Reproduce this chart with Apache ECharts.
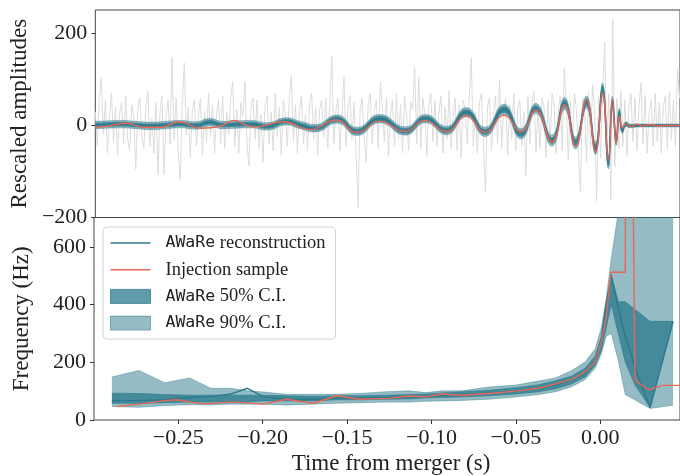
<!DOCTYPE html>
<html>
<head>
<meta charset="utf-8">
<script src="https://cdn.jsdelivr.net/npm/echarts@6/dist/echarts.min.js"></script>
<style>
  html, body { margin: 0; padding: 0; background: #fff; }
  #main { width: 680px; height: 476px; }
</style>
</head>
<body>
<div id="main"></div>
<script>
// 坐标轴刻度
var timeTicks = [-0.25, -0.20, -0.15, -0.10, -0.05, 0.00];
var ampTicks = [-200, 0, 200];
var freqTicks = [0, 200, 400, 600];

// 上图: 白化数据(灰色噪声), 采样起点和步长
var noiseStart = -0.2999, noiseStep = 0.0012;
var noiseAmp = [
  30, -45, 60, 104, -20, 55, -60, 15, 70, -35,
  40, -65, 25, 50, -40, 65, -30, -55, 45, 20,
  -95, 35, 60, -25, -50, 40, 75, -45, 15, -60,
  50, -107, 30, 65, -107, 20, 55, -40, 149, -30,
  60, -55, -117, 45, 136, -20, 40, -70, 35, 55,
  -45, 20, 60, -65, 30, -35, 70, -25, 45, -60,
  25, 55, -40, 65, -50, 30, -20, 60, 96, -45,
  35, -60, 50, 20, 95, -35, -88, 40, 60, -30,
  55, -50, 25, -80, 45, 65, -40, 30, -55, 70,
  -25, 40, -65, 55, 20, -45, 60, 108, -35, 45,
  -60, 30, 65, -40, 25, -55, 50, 70, -30, 40,
  -65, 35, 55, -25, 60, -50, 45, 150, -40, 30,
  60, -55, 25, 106, -45, 40, 65, -30, 50, -60,
  -178, 35, 60, -25, -80, 45, 70, -40, 30, 55,
  -50, 95, 40, -35, 60, -67, 25, 55, -45, 70,
  -30, 45, -60, 65, 20, -55, 50, 35, 126, -40,
  106, -50, 60, 25, -65, 45, 70, -35, 55, -45,
  30, 65, -60, 40, -30, 75, -50, 20, 60, -55,
  45, -70, 55, 35, -40, 65, 147, -45, 30, -60,
  50, 70, -35, -146, 40, 60, -55, 25, 65, -40,
  100, -50, 35, 60, -65, 45, -30, 70, -55, 40,
  55, -45, 30, -110, 65, -40, 50, 75, -60, 35,
  -50, 60, 40, -70, 55, -35, 70, 45, -60, 30,
  65, -55, 126, 40, -75, 55, -45, 70, 35, -65,
  -146, 60, 45, -80, 75, -50, 90, 40, -164, 65,
  -70, 85, 180, -60, 70, -160, 230, -90, 60, -50,
  75, -45, 55, -65, 40, 70, -35, 60, -55, 45,
  93, -40, 65, -60, 30, 55, -45, 70, -35, 50,
  -60, 40, 65, -50, 75, -30, 55, -45, 126, 60
];

// 上图: 重建波形及置信区间半宽
var recTime = [-0.2999, -0.2934, -0.2845, -0.2757, -0.2668, -0.2580, -0.2491, -0.2403, -0.2320, -0.2243,
  -0.2167, -0.2078, -0.1978, -0.1865, -0.1783, -0.1694, -0.1564, -0.1446, -0.1311, -0.1157,
  -0.1039, -0.0915, -0.0797, -0.0685, -0.0573, -0.0472, -0.0384, -0.0289, -0.0213, -0.0148,
  -0.0083, -0.0030, 0.0012, 0.0047, 0.0071, 0.0094, 0.0112, 0.0130, 0.0153, 0.0177,
  0.0224, 0.0472];
var recAmp = [1, 2, 3, 1, -1, 1, 3, 0, 7, 1,
  2, 3, -2, 9, 1, -6, 14, -13, 15, -12,
  15, -11, 29, -14, 35, -18, 37, -33, 48, -38,
  51, -50, 78, -80, 50, -32, 28, -10, 3, -1,
  0, 0];
var recHalf50 = [4, 4, 4, 4, 4, 4, 4, 4, 4, 4,
  4, 4, 4, 4, 4, 4, 5, 5, 5, 5,
  5, 5, 5, 5, 6, 6, 6, 6, 7, 7,
  7, 7, 8, 8, 7, 6, 5, 4, 3, 2,
  2, 2];
var recHalf90 = [8, 8, 8, 8, 8, 8, 8, 8, 8, 8,
  8, 8, 8, 8, 8, 8, 9, 9, 9, 9,
  9, 9, 10, 10, 11, 11, 11, 12, 13, 13,
  13, 13, 14, 14, 13, 11, 9, 7, 5, 4,
  3, 3];

// 上图: 注入波形
var injTime = [-0.2999, -0.2934, -0.2810, -0.2715, -0.2609, -0.2503, -0.2373, -0.2314, -0.2249, -0.2173,
  -0.2113, -0.2054, -0.1883, -0.1724, -0.1570, -0.1446, -0.1311, -0.1157, -0.1045, -0.0915,
  -0.0797, -0.0685, -0.0573, -0.0472, -0.0384, -0.0289, -0.0213, -0.0148, -0.0083, -0.0030,
  0.0012, 0.0047, 0.0071, 0.0094, 0.0112, 0.0130, 0.0153, 0.0183, 0.0213, 0.0254,
  0.0295, 0.0342, 0.0401, 0.0472];
var injAmp = [-4, -2, 5, -4, -4, 8, -6, -5, 0, 11,
  2, -3, 8, -9, 12, -15, 9, -13, 11, -13,
  21, -15, 22, -14, 33, -36, 45, -45, 56, -58,
  72, -75, 56, -38, 20, -5, 4, -3, 3, -1,
  2, -1, 0, 0];

// 下图: 频率重建
var freqTime = [-0.2893, -0.2733, -0.2580, -0.2432, -0.2308, -0.2190, -0.2090, -0.1995, -0.1860, -0.1700,
  -0.1564, -0.1423, -0.1269, -0.1133, -0.1033, -0.0939, -0.0821, -0.0661, -0.0502, -0.0366,
  -0.0266, -0.0171, -0.0089, -0.0030, 0.0006, 0.0035, 0.0065, 0.0106, 0.0148, 0.0207,
  0.0295, 0.0431];
var freqRec = [67, 67, 70, 78, 81, 90, 110, 80, 72, 72,
  76, 76, 78, 80, 82, 86, 88, 93, 100, 110,
  122, 138, 165, 205, 270, 400, 495, 390, 290, 180,
  43, 342];
var freqLo50 = [58, 58, 60, 62, 62, 63, 63, 66, 66, 66,
  70, 70, 72, 73, 76, 78, 80, 84, 90, 98,
  108, 125, 150, 190, 240, 320, 400, 300, 200, 120,
  43, 342];
var freqHi50 = [93, 92, 88, 86, 86, 86, 86, 86, 84, 82,
  84, 84, 86, 88, 90, 94, 98, 103, 112, 122,
  136, 152, 180, 222, 290, 410, 505, 410, 410, 382,
  342, 342];
var freqLo90 = [47, 44, 50, 53, 53, 55, 55, 55, 52, 55,
  58, 60, 62, 62, 65, 66, 68, 72, 80, 88,
  98, 115, 140, 180, 230, 290, 300, 207, 88, 69,
  40, 51];
var freqHi90 = [149, 172, 129, 146, 110, 110, 101, 97, 89, 89,
  89, 92, 98, 101, 95, 101, 101, 114, 121, 135,
  146, 171, 202, 247, 320, 420, 560, 720, 1500, 1500,
  1500, 1500];

// 下图: 注入频率
var injFreqTime = [-0.2863, -0.2733, -0.2580, -0.2509, -0.2349, -0.2172, -0.1995, -0.1860, -0.1700, -0.1564,
  -0.1423, -0.1251, -0.1133, -0.1033, -0.0939, -0.0821, -0.0661, -0.0502, -0.0366, -0.0266,
  -0.0171, -0.0089, -0.0030, 0.0006, 0.0035, 0.0063, 0.0148, 0.0151, 0.0175, 0.0205,
  0.0283, 0.0372, 0.0472];
var injFreq = [47, 55, 67, 70, 55, 63, 55, 72, 58, 84,
  72, 75, 83, 80, 90, 86, 92, 100, 110, 125,
  140, 168, 202, 270, 360, 512, 512, 2000, 2000, 139,
  105, 120, 120];

var TEAL = '#2b7a8c', RED = '#ea6656';
var C50 = 'rgba(43,122,140,0.75)', C90 = 'rgba(43,122,140,0.5)';
var SERIF = '"Liberation Serif", "DejaVu Serif", serif';
var MONO = '"DejaVu Sans Mono", "Liberation Mono", monospace';
var NAME_REC = 'AWaRe reconstruction', NAME_INJ = 'Injection sample';
var NAME_50 = 'AWaRe 50% C.I.', NAME_90 = 'AWaRe 90% C.I.';

// 简单的 extend, 页面没有 jQuery
var extend = function(a) {
  for (var k = 1; k < arguments.length; k++) {
    for (var key in arguments[k]) a[key] = arguments[k][key];
  }
  return a;
};

var zip = function(xs, ys) {
  var out = [];
  for (var i = 0; i < xs.length; i++) out.push([xs[i], ys[i]]);
  return out;
};

var minusFmt = function(digits) {
  return function(v) {
    var s = Math.abs(v).toFixed(digits);
    return v < -1e-9 ? '\u2212' + s : s;
  };
};

// 置信带: 下沿 + 堆叠差值
// 两个轴都是 value 时 echarts 会堆叠第一维, 所以数据写成 [y, x] 再用 encode 对应
var band = function(name, idx, t, lo, hi, color, smooth, z) {
  var diff = [];
  for (var i = 0; i < lo.length; i++) diff.push(hi[i] - lo[i]);
  var common = {
    type: 'line', xAxisIndex: idx, yAxisIndex: idx, stack: name + idx,
    stackStrategy: 'all', symbol: 'none', smooth: smooth, z: z, silent: true,
    encode: { x: 1, y: 0 }
  };
  return [
    extend({}, common, {
      name: name + '_lo' + idx, data: zip(lo, t),
      lineStyle: { width: 0.8, color: color }
    }),
    extend({}, common, {
      name: name, data: zip(diff, t), color: color,
      lineStyle: { width: 0.8, color: color },
      areaStyle: { color: color, opacity: 1 }
    })
  ];
};

var noiseData = [];
for (var i = 0; i < noiseAmp.length; i++) {
  noiseData.push([noiseStart + i * noiseStep, noiseAmp[i]]);
}

var recLo50 = [], recHi50 = [], recLo90 = [], recHi90 = [];
for (var j = 0; j < recAmp.length; j++) {
  recLo50.push(recAmp[j] - recHalf50[j]);
  recHi50.push(recAmp[j] + recHalf50[j]);
  recLo90.push(recAmp[j] - recHalf90[j]);
  recHi90.push(recAmp[j] + recHalf90[j]);
}

var labelStyle = { fontFamily: SERIF, fontSize: 22, color: '#222' };
var nameStyle = { fontFamily: SERIF, fontSize: 23, color: '#222' };
var tickStyle = { lineStyle: { color: '#333', width: 1 }, length: 4 };

var series = [{
  name: 'noise', type: 'line', xAxisIndex: 0, yAxisIndex: 0,
  data: noiseData, symbol: 'none', silent: true, z: 1,
  lineStyle: { width: 1, color: '#dcdcdc' }
}];
series = series.concat(band(NAME_90, 0, recTime, recLo90, recHi90, C90, true, 2));
series = series.concat(band(NAME_50, 0, recTime, recLo50, recHi50, C50, true, 3));
series.push({
  name: NAME_REC, type: 'line', xAxisIndex: 0, yAxisIndex: 0, z: 4,
  data: zip(recTime, recAmp), symbol: 'none', smooth: true,
  lineStyle: { width: 1.6, color: TEAL }, color: TEAL
});
series.push({
  name: NAME_INJ, type: 'line', xAxisIndex: 0, yAxisIndex: 0, z: 5,
  data: zip(injTime, injAmp), symbol: 'none', smooth: true,
  lineStyle: { width: 1.4, color: RED }, color: RED
});
series = series.concat(band(NAME_90, 1, freqTime, freqLo90, freqHi90, C90, false, 2));
series = series.concat(band(NAME_50, 1, freqTime, freqLo50, freqHi50, C50, false, 3));
series.push({
  name: NAME_REC, type: 'line', xAxisIndex: 1, yAxisIndex: 1, z: 4,
  data: zip(freqTime, freqRec), symbol: 'none',
  lineStyle: { width: 1.4, color: TEAL }, color: TEAL
});
series.push({
  name: NAME_INJ, type: 'line', xAxisIndex: 1, yAxisIndex: 1, z: 5,
  data: zip(injFreqTime, injFreq), symbol: 'none',
  lineStyle: { width: 1.4, color: RED }, color: RED
});

var LINE_ICON = 'path://M0,0h40v1.5h-40z';

var option = {
  animation: false,
  backgroundColor: '#fff',
  grid: [
    { left: 94, top: 10, width: 588, height: 207.5, show: true, borderColor: '#444', borderWidth: 1 },
    { left: 94, top: 217.5, width: 588, height: 207, show: true, borderColor: '#444', borderWidth: 1 }
  ],
  xAxis: [{
    type: 'value', gridIndex: 0, min: -0.2999, max: 0.0472,
    axisLine: { show: false, onZero: false }, axisTick: { show: false },
    axisLabel: { show: false }, splitLine: { show: false }
  }, {
    type: 'value', gridIndex: 1, min: -0.2999, max: 0.0472,
    name: 'Time from merger (s)', nameLocation: 'middle', nameGap: 32,
    nameTextStyle: extend({ padding: [0, 0, 0, 8] }, nameStyle),
    axisLine: { show: false, onZero: false },
    axisTick: extend({ customValues: timeTicks }, tickStyle),
    axisLabel: extend({ customValues: timeTicks, margin: 7, formatter: minusFmt(2) }, labelStyle),
    splitLine: { show: false }
  }],
  yAxis: [{
    type: 'value', gridIndex: 0, min: -200, max: 251,
    name: 'Rescaled amplitudes', nameLocation: 'middle', nameGap: 61,
    nameTextStyle: nameStyle,
    axisLine: { show: false, onZero: false },
    axisTick: extend({ customValues: ampTicks }, tickStyle),
    axisLabel: extend({ customValues: ampTicks, margin: 8, formatter: minusFmt(0) }, labelStyle),
    splitLine: { show: false }
  }, {
    type: 'value', gridIndex: 1, min: 0, max: 702,
    name: 'Frequency (Hz)', nameLocation: 'middle', nameGap: 61,
    nameTextStyle: nameStyle,
    axisLine: { show: false, onZero: false },
    axisTick: extend({ customValues: freqTicks }, tickStyle),
    axisLabel: extend({ customValues: freqTicks, margin: 8, formatter: minusFmt(0) }, labelStyle),
    splitLine: { show: false }
  }],
  legend: {
    left: 103, top: 227, orient: 'vertical',
    padding: [6, 10, 6, 7], itemGap: 6.7, itemWidth: 40, itemHeight: 14,
    borderColor: '#d4d4d4', borderWidth: 1, borderRadius: 4,
    backgroundColor: 'rgba(255,255,255,0.85)',
    selectedMode: false,
    data: [
      { name: NAME_REC, icon: LINE_ICON, itemStyle: { color: TEAL } },
      { name: NAME_INJ, icon: LINE_ICON, itemStyle: { color: RED } },
      { name: NAME_50, icon: 'rect', itemStyle: { color: C50, borderColor: C50, borderWidth: 1 } },
      { name: NAME_90, icon: 'rect', itemStyle: { color: C90, borderColor: C90, borderWidth: 1 } }
    ],
    formatter: function(name) {
      if (name.indexOf('AWaRe') === 0) return '{m|AWaRe}{s|' + name.slice(5) + '}';
      return '{s|' + name + '}';
    },
    textStyle: {
      fontFamily: SERIF, fontSize: 18, color: '#222', lineHeight: 20, padding: [0, 0, 0, 10],
      rich: {
        m: { fontFamily: MONO, fontSize: 16.5, color: '#222', lineHeight: 20 },
        s: { fontFamily: SERIF, fontSize: 18.5, color: '#222', lineHeight: 20 }
      }
    }
  },
  series: series
};

var chart = echarts.init(document.getElementById('main'));
chart.setOption(option);
</script>
</body>
</html>
